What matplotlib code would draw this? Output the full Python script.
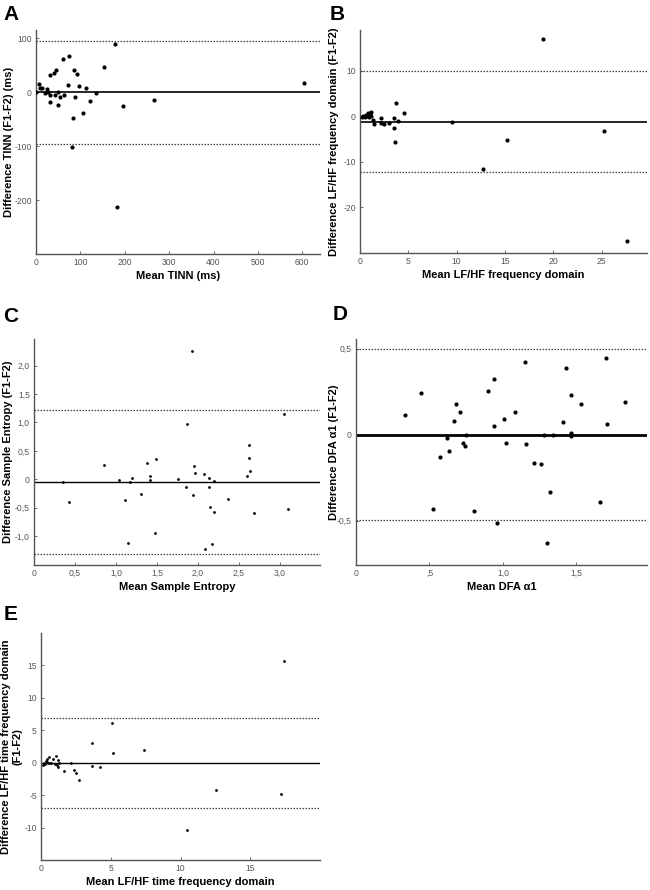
import numpy as np
import matplotlib
matplotlib.use("Agg")
import matplotlib.pyplot as plt

plt.rcParams['font.family'] = ['Liberation Sans', 'DejaVu Sans']

# ---------- Панель A: TINN ----------
a_mean = [0.7, 7.5, 10, 14, 20, 25, 28, 31, 31, 31, 41, 44, 42, 49, 49, 53, 61, 64,
          73, 74, 82, 83, 86, 89, 93, 97, 107, 112, 122, 135, 153, 177, 182, 195.5, 265, 604.5]
a_diff = [0, 15, 8, 7, -2, 6, 0.6, -6, -18.5, 31, 35, 41, -6, 1, -24, -10, 61, -5.5,
          14, 67, -102, -47.5, 41, -8.6, 33, 12, -39, 7.4, -17, -2.5, 46, 89.5, -212, -25, -14, 16]
a_lines = [0, 94, -96]

# ---------- Панель B: LF/HF frequency domain ----------
b_mean = [0.2, 0.35, 0.5, 0.55, 0.65, 0.7, 0.8, 0.9, 1.0, 1.07, 1.17, 1.14, 1.3, 1.5,
          2.17, 2.14, 2.5, 3.0, 3.5, 3.55, 3.6, 3.7, 3.9, 4.6, 9.5, 15.2, 12.7, 18.9, 25.3, 27.6]
b_diff = [-0.1, 0.1, 0.15, -0.07, 0.36, 0.2, 0.8, -0.07, 0.44, 0.73, 0.2, 0.95, -0.8, -1.75,
          -0.3, -1.4, -1.7, -1.4, -0.35, -2.6, -5.5, 2.9, -1.1, 0.8, -1.24, -5.1, -11.5, 17, -3.3, -27.4]
b_lines = [-1.17, 10.1, -12.3]

# ---------- Панель C: Sample Entropy ----------
c_mean = [0.35, 0.43, 0.86, 1.04, 1.11, 1.15, 1.17, 1.2, 1.3, 1.38, 1.41, 1.41, 1.48, 1.49,
          1.76, 1.85, 1.87, 1.93, 1.94, 1.95, 1.96, 2.07, 2.09, 2.13, 2.14, 2.15, 2.17, 2.2,
          2.2, 2.37, 2.6, 2.62, 2.62, 2.63, 2.69, 3.05, 3.1]
c_diff = [-0.05, -0.4, 0.25, -0.01, -0.37, -1.13, -0.04, 0.02, -0.26, 0.29, 0.06, -0.01, -0.94, 0.35,
          0, -0.13, 0.98, 2.26, -0.27, 0.23, 0.11, 0.09, -1.22, 0.02, -0.14, -0.49, -1.14, -0.57,
          -0.03, -0.34, 0.06, 0.6, 0.38, 0.15, -0.6, 1.15, -0.52]
c_lines = [-0.047, 1.22, -1.31]

# ---------- Панель D: DFA a1 ----------
d_mean = [0.335, 0.444, 0.526, 0.57, 0.62, 0.63, 0.67, 0.68, 0.71, 0.73, 0.745, 0.75, 0.80,
          0.90, 0.936, 0.94, 0.96, 1.007, 1.02, 1.08, 1.15, 1.16, 1.21, 1.26, 1.28, 1.30, 1.32,
          1.34, 1.41, 1.43, 1.46, 1.46, 1.46, 1.46, 1.53, 1.66, 1.70, 1.71, 1.83]
d_diff = [0.117, 0.243, -0.431, -0.13, -0.02, -0.093, 0.083, 0.179, 0.134, -0.05, -0.066, 0.0, -0.445,
          0.252, 0.326, 0.049, -0.513, 0.091, -0.047, 0.132, 0.423, -0.054, -0.165, -0.167, 0, -0.627, -0.33,
          -0.002, 0.072, 0.386, 0.012, -0.006, 0.002, 0.231, 0.177, -0.39, 0.447, 0.062, 0.188]
d_lines = [0, 0.5, -0.495]

# ---------- Панель E: LF/HF time frequency domain ----------
e_mean = [0.14, 0.24, 0.31, 0.36, 0.41, 0.46, 0.53, 0.6, 0.67, 0.74, 0.86, 1.0, 1.06, 1.15, 1.2,
          1.25, 1.32, 1.65, 2.18, 2.37, 2.54, 2.73, 3.65, 3.67, 4.22, 5.06, 5.15, 7.39, 10.48,
          12.52, 17.24, 17.43]
e_diff = [-0.3, -0.05, -0.15, 0.3, 0.6, 0.05, -0.05, 0.87, 0, -0.05, 0.5, -0.15, 0.98, -0.3, 0.36,
          -0.6, 0, -1.34, 0, -1.08, -1.54, -2.62, 2.98, -0.57, -0.67, 6.12, 1.5, 1.95, -10.33,
          -4.16, -4.78, 15.73]
e_lines = [0, 6.94, -6.94]

W, H = 650, 890
fig = plt.figure(figsize=(W / 100, H / 100), dpi=100)


def make_ax(l, r, t, b):
    return fig.add_axes([l / W, 1 - b / H, (r - l) / W, (b - t) / H])


def panel(ax, x, y, lines, xlim, ylim, xt, xtl, yt, ytl, xlabel, ylabel,
          letter, lpos, ylab_x, ms=9, mean_lw=1.2):
    ax.scatter(x, y, s=ms, color='black', linewidths=0, zorder=3)
    ax.axhline(lines[0], color='black', lw=mean_lw, zorder=2)
    ax.axhline(lines[1], color='#444444', lw=0.9, ls=(0, (1.2, 1.2)), zorder=2)
    ax.axhline(lines[2], color='#444444', lw=0.9, ls=(0, (1.2, 1.2)), zorder=2)
    ax.set_xlim(*xlim)
    ax.set_ylim(*ylim)
    ax.set_xticks(xt, xtl)
    ax.set_yticks(yt, ytl)
    for s in ['top', 'right']:
        ax.spines[s].set_visible(False)
    for s in ['left', 'bottom']:
        ax.spines[s].set_color('#555555')
        ax.spines[s].set_linewidth(1.0)
    ax.tick_params(direction='in', length=2, width=0.6, colors='#555555',
                   labelsize=6.2, pad=3)
    ax.set_xlabel(xlabel, fontsize=8, fontweight='bold', labelpad=3)
    ax.set_ylabel(ylabel, fontsize=8, fontweight='bold', linespacing=1.2)
    # положение подписи оси Y в пикселях
    bb = ax.get_position()
    ax.yaxis.label.set_va('center')
    ax.yaxis.set_label_coords((ylab_x / W - bb.x0) / bb.width, 0.5)
    fig.text(lpos[0] / W, 1 - lpos[1] / H, letter, fontsize=15,
             fontweight='bold', ha='center', va='center')


ax = make_ax(36, 320, 30, 254)
panel(ax, a_mean, a_diff, a_lines, (0, 640), (-300, 115),
      [0, 100, 200, 300, 400, 500, 600], ['0', '100', '200', '300', '400', '500', '600'],
      [-200, -100, 0, 100], ['-200', '-100', '0', '100'],
      'Mean TINN (ms)', 'Difference TINN (F1-F2) (ms)', 'A', (11.5, 15), 9)

ax = make_ax(360, 647, 30, 253)
panel(ax, b_mean, b_diff, b_lines, (0, 29.7), (-30, 19),
      [0, 5, 10, 15, 20, 25], ['0', '5', '10', '15', '20', '25'],
      [-20, -10, 0, 10], ['-20', '-10', '0', '10'],
      'Mean LF/HF frequency domain', 'Difference LF/HF frequency domain (F1-F2)', 'B',
      (337, 14.5), 334)

ax = make_ax(34, 320, 339, 565)
panel(ax, c_mean, c_diff, c_lines, (0, 3.49), (-1.51, 2.47),
      [0, 0.5, 1.0, 1.5, 2.0, 2.5, 3.0], ['0', '0,5', '1,0', '1,5', '2,0', '2,5', '3,0'],
      [-1.0, -0.5, 0, 0.5, 1.0, 1.5, 2.0], ['-1,0', '-0,5', '0', '0,5', '1,0', '1,5', '2,0'],
      'Mean Sample Entropy', 'Difference Sample Entropy (F1-F2)', 'C', (11, 316), 8,
      ms=4, mean_lw=1.0)

ax = make_ax(356, 647, 339, 565)
panel(ax, d_mean, d_diff, d_lines, (0, 1.98), (-0.757, 0.557),
      [0, 0.5, 1.0, 1.5], ['0', ',5', '1,0', '1,5'],
      [-0.5, 0, 0.5], ['-0,5', '0', '0,5'],
      'Mean DFA α1', 'Difference DFA α1 (F1-F2)', 'D', (340, 315), 334, mean_lw=2.0)

ax = make_ax(41, 320, 633, 860)
panel(ax, e_mean, e_diff, e_lines, (0, 20), (-15, 20),
      [0, 5, 10, 15], ['0', '5', '10', '15'],
      [-10, -5, 0, 5, 10, 15], ['-10', '-5', '0', '5', '10', '15'],
      'Mean LF/HF time frequency domain', 'Difference LF/HF time frequency domain\n(F1-F2)',
      'E', (11, 614), 12, ms=4, mean_lw=1.0)

fig.savefig('out.png', dpi=100, facecolor='white')
